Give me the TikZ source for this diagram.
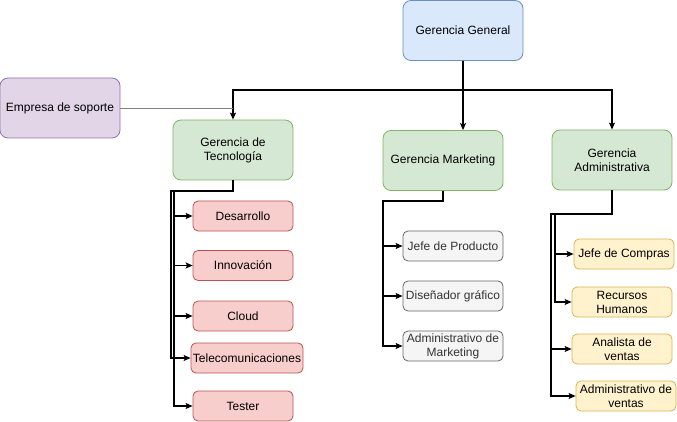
\documentclass[tikz,border=0pt]{standalone}
\usepackage{fontspec}
\setmainfont{Liberation Sans}
\usetikzlibrary{arrows.meta}
\definecolor{blueF}{HTML}{DAE8FC}\definecolor{blueD}{HTML}{6C8EBF}
\definecolor{purpF}{HTML}{E1D5E7}\definecolor{purpD}{HTML}{9673A6}
\definecolor{greenF}{HTML}{D5E8D4}\definecolor{greenD}{HTML}{82B366}
\definecolor{redF}{HTML}{F8CECC}\definecolor{redD}{HTML}{B85450}
\definecolor{grayF}{HTML}{F5F5F5}\definecolor{grayD}{HTML}{666666}
\definecolor{grayT}{HTML}{333333}
\definecolor{yelF}{HTML}{FFF2CC}\definecolor{yelD}{HTML}{D6B656}
\tikzset{box/.style = {shape = rectangle, draw, rounded corners = 8pt, align = center, inner sep = 0pt, minimum width = 120pt, minimum height = 60pt, line width = 0.8pt, font = \fontsize{12}{14}\selectfont}}
\tikzset{small/.style = {box, rounded corners = 5pt, minimum width = 100pt, minimum height = 30pt}}
\tikzset{edge/.style = {-{Stealth[length = 7pt, width = 6pt, inset = 1.5pt]}, line width = 1.2pt}}

\begin{document}
\begin{tikzpicture}[x = 1pt, y = -1pt]
			\useasboundingbox (0, 0) rectangle (677, 422);
			\node[box, fill = blueF, draw = blueD] (gg) at (463, 30.5) {Gerencia General};
			\node[box, fill = purpF, draw = purpD] (emp) at (60, 108) {Empresa de soporte};
			\node[box, fill = greenF, draw = greenD] (tec) at (233, 150) {Gerencia de\\Tecnología};
			\node[box, fill = greenF, draw = greenD] (mkt) at (443, 160.5) {Gerencia Marketing};
			\node[box, fill = greenF, draw = greenD] (adm) at (612, 160) {Gerencia\\Administrativa};

			\node[small, fill = redF, draw = redD] (des) at (243, 216) {Desarrollo};
			\node[small, fill = redF, draw = redD] (inn) at (243, 265.5) {Innovación};
			\node[small, fill = redF, draw = redD] (clo) at (243, 316) {Cloud};
			\node[small, fill = redF, draw = redD, minimum width = 112pt] (tel) at (247, 358) {Telecomunicaciones};
			\node[small, fill = redF, draw = redD] (tes) at (243, 406) {Tester};

			\node[small, fill = grayF, draw = grayD, text = grayT] (jef) at (453, 246) {Jefe de Producto};
			\node[small, fill = grayF, draw = grayD, text = grayT] (dis) at (453, 296) {Diseñador gráfico};
			\node[small, fill = grayF, draw = grayD, text = grayT] (amk) at (453, 346) {Administrativo de\\Marketing};

			\node[small, fill = yelF, draw = yelD] (jco) at (624, 254) {Jefe de Compras};
			\node[small, fill = yelF, draw = yelD] (rrh) at (622, 302) {Recursos\\Humanos};
			\node[small, fill = yelF, draw = yelD] (ana) at (622, 349) {Analista de\\ventas};
			\node[small, fill = yelF, draw = yelD] (adv) at (626, 396) {Administrativo de\\ventas};

			\coordinate (top) at (463, 90);
			\coordinate (tb1) at (174, 191);
			\coordinate (tb2) at (171, 191);
			\coordinate (mb) at (383, 201);
			\coordinate (ab1) at (555, 214);
			\coordinate (ab2) at (551, 214);

			\draw[edge] (gg.south) |- (top) -| (tec.north);
			\draw[edge] (gg.south) -- (gg.south |- mkt.north);
			\draw[edge] (gg.south) |- (top) -| (adm.north);
			\draw[gray, line width = 0.8pt] (emp.east) -- (emp.east -| tec.north);

			\draw[edge] (tec.south) |- (tb1) |- (des.west);
			\draw[edge] (tec.south) |- (tb1) |- (inn.west);
			\draw[edge] (tec.south) |- (tb1) |- (clo.west);
			\draw[edge] (tec.south) |- (tb2) |- (tel.west);
			\draw[edge] (tec.south) |- (tb1) |- (tes.west);

			\draw[edge] (mkt.south) |- (mb) |- (jef.west);
			\draw[edge] (mkt.south) |- (mb) |- (dis.west);
			\draw[edge] (mkt.south) |- (mb) |- (amk.west);

			\draw[edge] (adm.south) |- (ab1) |- (jco.west);
			\draw[edge] (adm.south) |- (ab1) |- (rrh.west);
			\draw[edge] (adm.south) |- (ab2) |- (ana.west);
			\draw[edge] (adm.south) |- (ab2) |- (adv.west);
		\end{tikzpicture}
\end{document}
